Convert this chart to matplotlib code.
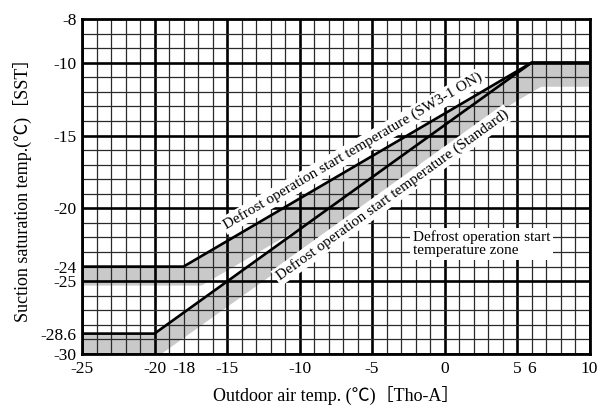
import numpy as np
import matplotlib
matplotlib.use("Agg")
import matplotlib.pyplot as plt

plt.rcParams['font.family'] = ['Liberation Serif', 'Noto Sans CJK JP']

# defrost start lines (outdoor temp, suction sat. temp)
sw_x = [-25, -18, 6, 10]
sw_y = [-24, -24, -10, -10]
std_x = [-25, -20, 6, 10]
std_y = [-28.6, -28.6, -10, -10]

# lower edges of the grey zones
sw_zone_x = [-25, -16.75, 6.75, 10]
sw_zone_y = [-25.3, -25.3, -11.6, -11.6]
std_zone_x = [-25, -20.1, 6.3, 10]
std_zone_y = [-30.4, -30.4, -11.65, -11.65]

xticks = [-25, -20, -18, -15, -10, -5, 0, 5, 6, 10]
yticks = [-7, -10, -15, -20, -24, -25, -28.6, -30]
ylabels = ['-8', '-10', '-15', '-20', '-24', '-25', '-28.6', '-30']

fig = plt.figure(figsize=(6.09, 4.05), dpi=100)
ax = fig.add_axes([82/609, 1-354/405, (589.5-82)/609, (354-19)/405])
ax.set_xlim(-25, 10)
ax.set_ylim(-30, -7)

grey = '#c9c9c9'
for zx, zy, lx, ly in [(sw_x, sw_y, sw_zone_x, sw_zone_y), (std_x, std_y, std_zone_x, std_zone_y)]:
    ax.fill(list(zx) + list(lx)[::-1], list(zy) + list(ly)[::-1], color=grey, lw=0, zorder=1)

# grid
for v in np.arange(-25, 11, 1):
    major = v % 5 == 0
    ax.axvline(v, color='black' if major else '#2a2a2a', lw=1.9 if major else 0.9, zorder=2)
for h in np.arange(-30, -6, 1):
    major = h % 5 == 0
    ax.axhline(h, color='black' if major else '#2a2a2a', lw=1.9 if major else 0.9, zorder=2)

ax.plot(sw_x, sw_y, color='black', lw=1.9, zorder=3)
ax.plot(std_x, std_y, color='black', lw=1.9, zorder=3)

for s in ax.spines.values():
    s.set_linewidth(2)
    s.set_zorder(5)

ax.set_xticks(xticks)
ax.set_xticklabels([str(t) for t in xticks])
ax.set_yticks(yticks)
ax.set_yticklabels(ylabels)
ax.tick_params(length=0, labelsize=12.5)
ax.tick_params(axis='x', pad=5)
ax.tick_params(axis='y', pad=4)

box = dict(facecolor='white', edgecolor='none', pad=1.5)
ang_sw = np.degrees(np.arctan((sw_y[2] - sw_y[1]) / (sw_x[2] - sw_x[1])))
ang_std = np.degrees(np.arctan((std_y[2] - std_y[1]) / (std_x[2] - std_x[1])))
ax.text(-6.3, -16.05, 'Defrost operation start temperature (SW3-1 ON)', rotation=ang_sw,
        transform_rotates_text=True, rotation_mode='anchor', ha='center', va='center',
        fontsize=11, bbox=box, zorder=4)
ax.text(-3.6, -19.1, 'Defrost operation start temperature (Standard)', rotation=ang_std,
        transform_rotates_text=True, rotation_mode='anchor', ha='center', va='center',
        fontsize=11, bbox=box, zorder=4)
ax.text(-2.2, -22.45, 'Defrost operation start\ntemperature zone', ha='left', va='center',
        fontsize=11, linespacing=1.0, bbox=dict(facecolor='white', edgecolor='none', pad=2), zorder=4)

fig.text(336/609, 1-395/405, 'Outdoor air temp. (℃)［Tho-A］', ha='center', va='center', fontsize=13)
fig.text(22/609, 1-186/405, 'Suction saturation temp.(℃)［SST］', ha='center', va='center',
         rotation=90, fontsize=13)

fig.savefig('out.png', dpi=100)
